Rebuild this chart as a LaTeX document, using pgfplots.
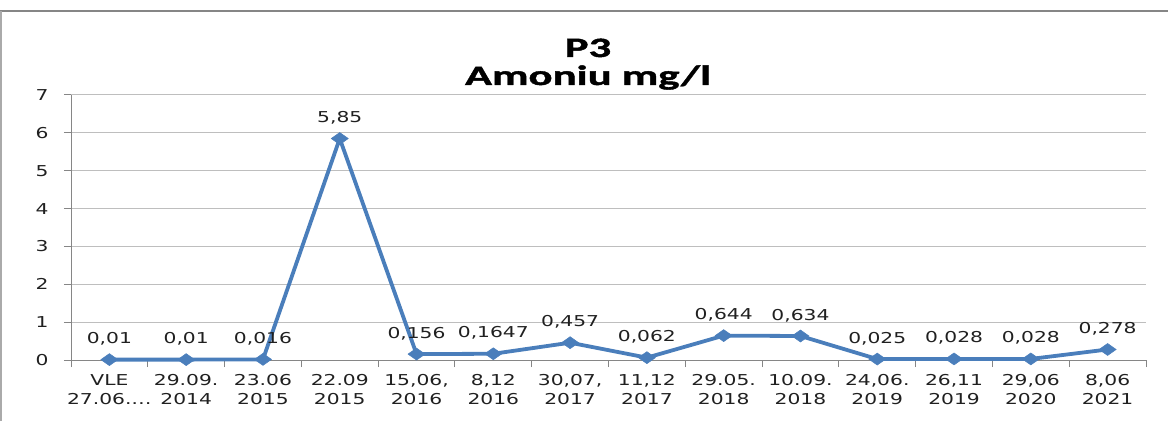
\documentclass[border=0pt]{standalone}
\usepackage{fontspec}
\setmainfont{DejaVu Sans}[FakeStretch=1.35]
\newfontfamily\titlefont{Carlito}[FakeStretch=1.6, BoldFeatures={FakeStretch=1.6, FakeBold=1.5}]
\usepackage{pgfplots}
\pgfplotsset{compat=1.18}
\usepackage{pgfplotstable}
\definecolor{ser}{HTML}{4A7EBB}
\definecolor{gridc}{HTML}{BEBEBE}
\definecolor{axl}{HTML}{868686}
\definecolor{txt}{HTML}{202020}
\pgfplotstableread{
x y lab
0 0.01 0,01
1 0.01 0,01
2 0.016 0,016
3 5.85 5,85
4 0.156 0,156
5 0.1647 0,1647
6 0.457 0,457
7 0.062 0,062
8 0.644 0,644
9 0.634 0,634
10 0.025 0,025
11 0.028 0,028
12 0.028 0,028
13 0.278 0,278
}\datatab
\begin{document}
\begin{tikzpicture}[x=1pt,y=1pt]
\useasboundingbox (0,0) rectangle (1168,421);
\draw[axl, line width=1.5pt] (0,410) -- (1168,410);
\draw[axl!70, line width=1.5pt] (1,0) -- (1,410);
\node[font=\titlefont\bfseries\fontsize{28}{28}\selectfont, anchor=base, text=black] at (588,364) {P3};
\node[font=\titlefont\bfseries\fontsize{28}{28}\selectfont, anchor=base, text=black] at (588,336) {Amoniu mg/l};
\begin{axis}[
  at={(71pt,61pt)}, anchor=south west,
  scale only axis, width=1075pt, height=265pt,
  xmin=-0.5, xmax=13.5, ymin=0, ymax=7,
  axis lines*=left,
  axis line style={axl, line width=1pt},
  tick align=outside, major tick length=7pt,
  tick style={axl, line width=1pt},
  ytick={0,...,7},
  xtick={-0.5,0.5,...,13.5},
  xticklabels={{VLE\\27.06.…},{29.09.\\2014},{23.06\\2015},{22.09\\2015},{15,06,\\2016},{8,12\\2016},{30,07,\\2017},{11,12\\2017},{29.05.\\2018},{10.09.\\2018},{24,06.\\2019},{26,11\\2019},{29,06\\2020},{8,06\\2021},{}},
  xticklabel style={align=center, font=\fontsize{15}{19}\selectfont, text=txt, xshift=38.39pt, yshift=-4pt},
  yticklabel style={font=\fontsize{15}{19}\selectfont, text=txt, xshift=-12pt},
  /pgf/number format/assume math mode=true,
  ymajorgrids, grid style={gridc, line width=1pt},
  clip=false,
]
\addplot[ser, line width=3.8pt, mark=diamond*, mark size=6pt,
  mark options={xscale=1.9, fill=ser, draw=ser, line width=0.5pt},
  point meta=explicit symbolic,
  nodes near coords,
  every node near coord/.append style={anchor=base, yshift=16pt, inner sep=0pt, font=\fontsize{15}{19}\selectfont, text=txt},
] table[x=x, y=y, meta=lab] {\datatab};
\end{axis}
\end{tikzpicture}
\end{document}
